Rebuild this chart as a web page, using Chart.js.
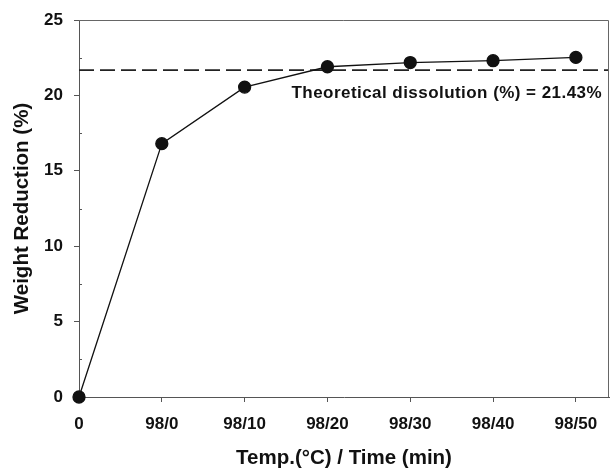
<!DOCTYPE html>
<html>
<head>
<meta charset="utf-8">
<script src="https://cdn.jsdelivr.net/npm/chart.js@4/dist/chart.umd.min.js"></script>
<style>
  html, body { margin: 0; padding: 0; background: #fff; }
  #wrap { width: 610px; height: 472px; }
</style>
</head>
<body>
<div id="wrap"><canvas id="grafico"></canvas></div>
<script>
// dados
const categorias = ['0', '98/0', '98/10', '98/20', '98/30', '98/40', '98/50'];
const reducaoPeso = [0, 16.8, 20.55, 21.9, 22.18, 22.3, 22.52];
const yTicks = [0, 5, 10, 15, 20, 25];
const yMinorTicks = [2.5, 7.5, 12.5, 17.5, 22.5];
const xMax = 6.4;
const linhaTeorica = 21.67;
const textoTeorico = 'Theoretical dissolution (%) = 21.43%';

const fonte = 'Liberation Sans, Arial, sans-serif';

// moldura + ticks menores + texto da linha teórica
const extras = {
    id: 'extras',
    afterDatasetsDraw(chart) {
        const { ctx, chartArea: a, scales: { x, y } } = chart;
        ctx.save();
        ctx.strokeStyle = '#666';
        ctx.lineWidth = 1;
        ctx.beginPath();
        ctx.moveTo(a.left, a.top + 0.5);
        ctx.lineTo(a.right - 0.5, a.top + 0.5);
        ctx.lineTo(a.right - 0.5, a.bottom);
        ctx.stroke();

        ctx.strokeStyle = '#555';
        ctx.beginPath();
        yMinorTicks.forEach(v => {
            const py = Math.round(y.getPixelForValue(v)) + 0.5;
            ctx.moveTo(a.left, py);
            ctx.lineTo(a.left + 3, py);
        });
        ctx.stroke();

        ctx.fillStyle = '#111';
        ctx.font = 'bold 17px ' + fonte;
        ctx.letterSpacing = '0.45px';
        ctx.textAlign = 'right';
        ctx.textBaseline = 'alphabetic';
        ctx.fillText(textoTeorico, a.right - 7, y.getPixelForValue(linhaTeorica) + 28);
        ctx.restore();
    }
};

const ctx = document.getElementById('grafico').getContext('2d');
new Chart(ctx, {
    type: 'line',
    data: {
        datasets: [
            {
                label: 'Weight Reduction',
                data: reducaoPeso.map((v, i) => ({ x: i, y: v })),
                borderColor: '#111',
                borderWidth: 1.3,
                backgroundColor: '#111',
                pointRadius: 6,
                pointHoverRadius: 6,
                tension: 0,
                clip: false
            },
            {
                label: 'Theoretical',
                data: [{ x: 0, y: linhaTeorica }, { x: xMax, y: linhaTeorica }],
                borderColor: '#222',
                borderWidth: 1.8,
                borderDash: [15, 6],
                pointRadius: 0
            }
        ]
    },
    options: {
        responsive: true,
        maintainAspectRatio: false,
        animation: false,
        layout: { autoPadding: false, padding: { top: 20, right: 1, left: 0, bottom: 0 } },
        plugins: { legend: { display: false }, tooltip: { enabled: false } },
        scales: {
            x: {
                type: 'linear',
                min: 0,
                max: xMax,
                afterBuildTicks: s => { s.ticks = categorias.map((c, i) => ({ value: i })); },
                afterFit: s => { s.height = 75; s.paddingLeft = 0; s.paddingRight = 0; },
                grid: { drawOnChartArea: false, drawTicks: true, tickLength: 5, color: '#555' },
                border: { color: '#555', width: 1 },
                ticks: {
                    callback: v => categorias[v] ?? '',
                    color: '#111',
                    font: { family: fonte, size: 17, weight: 'bold' },
                    padding: 12,
                    maxRotation: 0,
                    autoSkip: false
                },
                title: {
                    display: true,
                    text: 'Temp.(°C) / Time (min)',
                    color: '#111',
                    font: { family: fonte, size: 20.5, weight: 'bold' },
                    padding: { top: 0, bottom: 1.7 }
                }
            },
            y: {
                min: 0,
                max: 25,
                afterBuildTicks: s => { s.ticks = yTicks.map(v => ({ value: v })); },
                afterFit: s => { s.width = 79; s.paddingTop = 0; s.paddingBottom = 0; },
                grid: { drawOnChartArea: false, drawTicks: true, tickLength: 5, color: '#555' },
                border: { color: '#555', width: 1 },
                ticks: {
                    color: '#111',
                    font: { family: fonte, size: 17, weight: 'bold' },
                    padding: 11
                },
                title: {
                    display: true,
                    text: 'Weight Reduction (%)',
                    color: '#111',
                    font: { family: fonte, size: 20.5, weight: 'bold' },
                    padding: { top: 9.7, bottom: 0 }
                }
            }
        }
    },
    plugins: [extras]
});
</script>
</body>
</html>
